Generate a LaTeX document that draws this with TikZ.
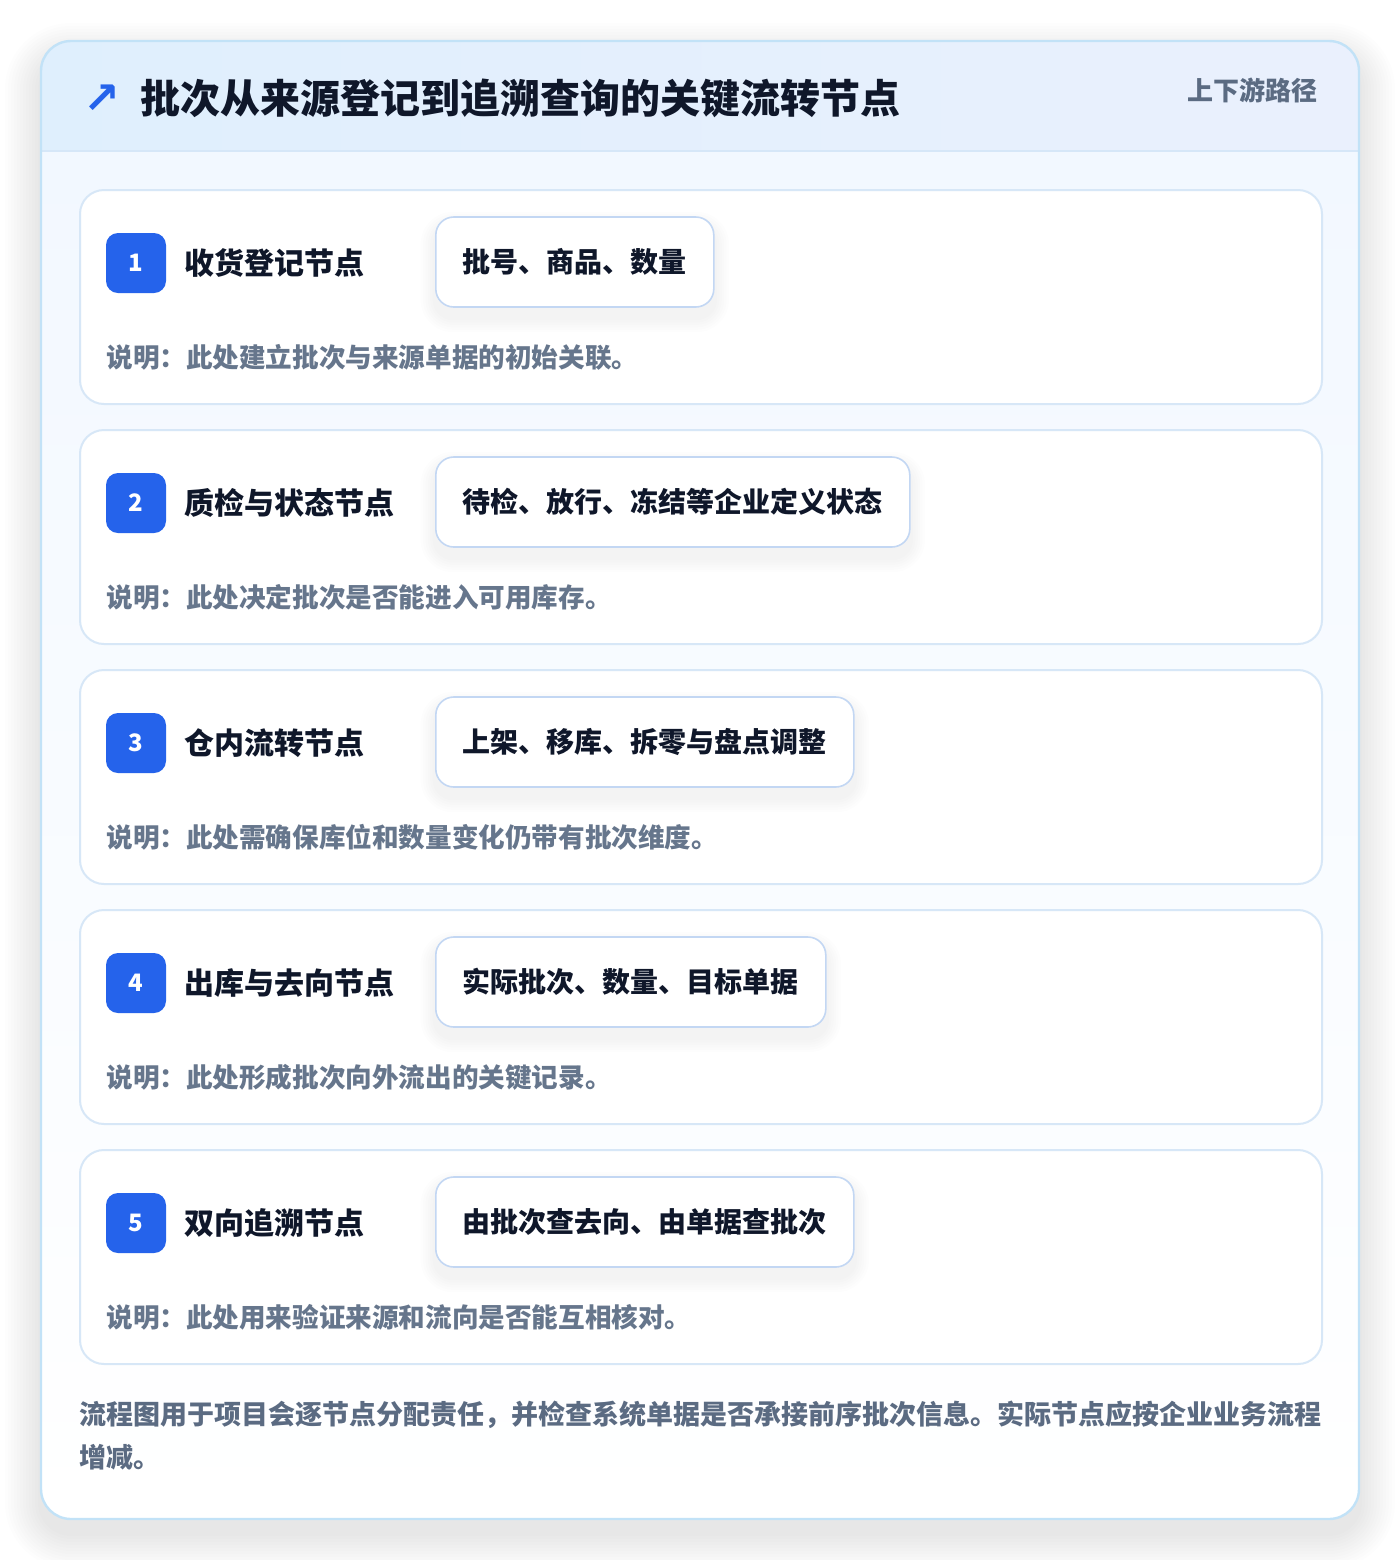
\documentclass[tikz,border=0pt]{standalone}
\usepackage{fontspec}
\setmainfont{Noto Sans CJK SC}
\newfontfamily\dvfont{DejaVu Sans}
\definecolor{bgc}{HTML}{FFFFFF}
\definecolor{outerb}{HTML}{C2E2F7}
\definecolor{headl}{HTML}{DFEFFD}
\definecolor{headr}{HTML}{EAF0FD}
\definecolor{headline}{HTML}{D6E7F8}
\definecolor{bodyt}{HTML}{F2F8FF}
\definecolor{cardb}{HTML}{D7E7F7}
\definecolor{badgec}{HTML}{2563EB}
\definecolor{darkt}{HTML}{0F172A}
\definecolor{pillb}{HTML}{C3D7F3}
\definecolor{desct}{HTML}{66768C}
\definecolor{foott}{HTML}{5B6B82}
\tikzset{
  cardbox/.style={draw=cardb, line width=1pt, fill=white, rounded corners=12pt,
    minimum width=621pt, minimum height=107pt, anchor=north west, inner sep=0pt},
  badgebox/.style={fill=badgec, rounded corners=6pt, minimum width=30pt, minimum height=30pt,
    inner sep=0pt, text=white, font=\fontsize{12pt}{14pt}\selectfont\bfseries},
  steptitle/.style={anchor=west, inner sep=0pt, text=darkt, font=\fontsize{15pt}{18pt}\selectfont\bfseries},
  pillbox/.style={draw=pillb, line width=0.8pt, fill=white, rounded corners=9pt, anchor=west,
    minimum height=45pt, inner xsep=13.5pt, inner ysep=0pt, text=darkt,
    font=\fontsize{14pt}{17pt}\selectfont\bfseries},
  desctext/.style={anchor=west, inner sep=0pt, text=desct, font=\fontsize{13.3pt}{16pt}\selectfont\bfseries},
  foottext/.style={anchor=west, inner sep=0pt, text=foott, font=\fontsize{13.5pt}{16pt}\selectfont\bfseries},
  shadowlayer/.style={fill=black, opacity=#1},
}
\begin{document}
\begin{tikzpicture}[x=0.5pt,y=-0.5pt]
\useasboundingbox (0,0) rectangle (1400,1560);
\fill[bgc] (0,0) rectangle (1400,1560);
% outer card soft shadow
\foreach \k in {1,...,12}{
  \pgfmathsetmacro{\rr}{15+\k*1.5}
  \fill[shadowlayer=0.0065, rounded corners=\rr pt]
    (41-\k*3,41-\k*3+18) rectangle (1359+\k*3,1519+\k*3+14);
}
\fill[white, rounded corners=15pt] (41,41) rectangle (1359,1519);
\begin{scope}
  \clip[rounded corners=15pt] (41,41) rectangle (1359,1519);
  \shade[left color=headl, right color=headr] (41,41) rectangle (1359,151);
  \shade[top color=bodyt, bottom color=white] (41,151) rectangle (1359,1519);
  \draw[headline, line width=1pt] (41,151) -- (1359,151);
\end{scope}
\draw[outerb, line width=1.2pt, rounded corners=15pt] (41,41) rectangle (1359,1519);
% header
\node[inner sep=0pt, text=badgec, font=\dvfont\fontsize{22pt}{24pt}\selectfont\bfseries] (icon) at (102,99) {↗};
\node[anchor=west, inner sep=0pt, text=darkt, font=\fontsize{20pt}{24pt}\selectfont\bfseries] (title) at (140,98) {批次从来源登记到追溯查询的关键流转节点};
\node[anchor=east, inner sep=0pt, text=foott, font=\fontsize{13pt}{16pt}\selectfont\bfseries] (tag) at (1318,90) {上下游路径};
% cards
\foreach \i/\t/\p/\d in {
  1/收货登记节点/批号、商品、数量/说明：此处建立批次与来源单据的初始关联。,
  2/质检与状态节点/待检、放行、冻结等企业定义状态/说明：此处决定批次是否能进入可用库存。,
  3/仓内流转节点/上架、移库、拆零与盘点调整/说明：此处需确保库位和数量变化仍带有批次维度。,
  4/出库与去向节点/实际批次、数量、目标单据/说明：此处形成批次向外流出的关键记录。,
  5/双向追溯节点/由批次查去向、由单据查批次/说明：此处用来验证来源和流向是否能互相核对。}{
  \pgfmathsetmacro{\top}{189+(\i-1)*240}
  \node[cardbox] (card\i) at (79,\top) {};
  \node[badgebox] (badge\i) at (136,\top+74) {\i};
  \node[steptitle] (name\i) at (184,\top+74) {\t};
  \node[pillbox, opacity=0] (pillsize\i) at (435,\top+73) {\p};
  \foreach \k in {1,...,6}{
    \pgfmathsetmacro{\rr}{9+\k*1.2}
    \fill[shadowlayer=0.009, rounded corners=\rr pt]
      ([xshift=-\k*1.2pt,yshift=\k*1.2pt-5pt]pillsize\i.north west) rectangle
      ([xshift=\k*1.2pt,yshift=-\k*1.2pt-5pt]pillsize\i.south east);
  }
  \node[pillbox] (pill\i) at (435,\top+73) {\p};
  \node[desctext] (desc\i) at (106,\top+168) {\d};
}
% footer
\node[foottext] (foot1) at (79,1415) {流程图用于项目会逐节点分配责任，并检查系统单据是否承接前序批次信息。实际节点应按企业业务流程};
\node[foottext] (foot2) at (79,1457) {增减。};
\end{tikzpicture}
\end{document}
